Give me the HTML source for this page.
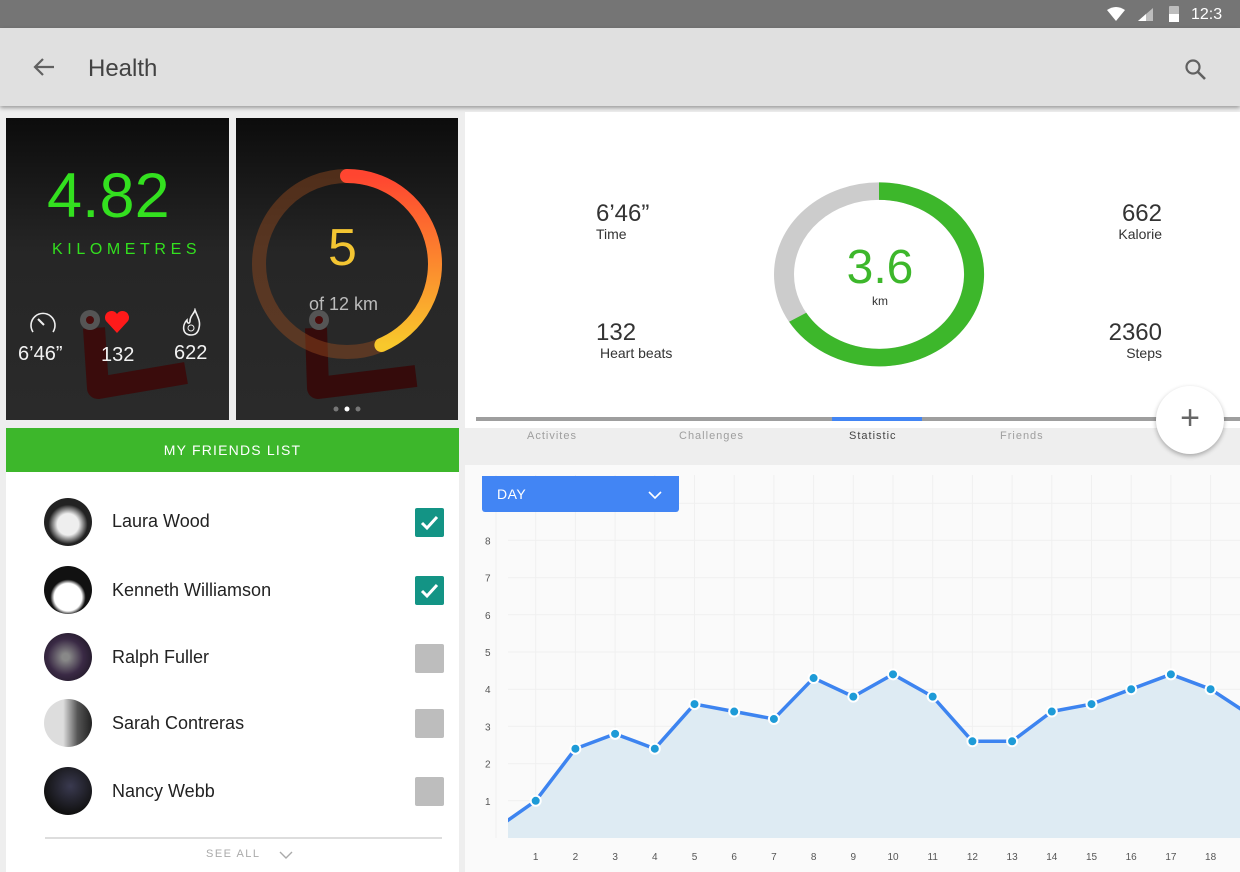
<!DOCTYPE html>
<html><head><meta charset="utf-8">
<style>
*{margin:0;padding:0;box-sizing:border-box}
body{width:1240px;height:872px;overflow:hidden;background:#eeeeee;font-family:"Liberation Sans",sans-serif;position:relative}
.abs{position:absolute}
.card{background:linear-gradient(#0c0c0c,#262626 45%,#2a2a2a);overflow:hidden}
.nm{position:absolute;left:112px;font-size:18px;color:#222}
.av{position:absolute;left:44px;width:48px;height:48px;border-radius:50%}
.cb{position:absolute;left:415px;width:29px;height:29px;border-radius:2px;background:#bdbdbd}
.cb.on{background:#139485}
.tab{position:absolute;top:430px;font-size:11px;letter-spacing:1px;color:#9e9e9e}
</style></head><body>
<div class="abs" style="left:0;top:0;width:1240px;height:28px;background:#757575">
 <svg class="abs" style="left:1106px;top:7px" width="20" height="15"><path d="M1 3 Q10 -3 19 3 L10 14Z" fill="#fff"/></svg>
 <svg class="abs" style="left:1138px;top:8px" width="16" height="14"><path d="M0 13 L15 0 L15 13Z" fill="#bdbdbd"/><path d="M0 13 L8 6 L8 13Z" fill="#fff"/></svg>
 <div class="abs" style="left:1169px;top:6px;width:10px;height:16px;background:#bdbdbd;border-radius:1px"><div class="abs" style="left:0;top:8px;width:10px;height:8px;background:#fff"></div></div>
 <div class="abs" style="left:1191px;top:6px;color:#fff;font-size:16px">12:3</div>
</div>
<div class="abs" style="left:0;top:28px;width:1240px;height:78px;background:#e0e0e0;box-shadow:0 2px 4px rgba(0,0,0,.35)">
 <svg class="abs" style="left:32px;top:29px" width="24" height="20"><path d="M22 10H4M11 2L3 10L11 18" stroke="#616161" stroke-width="2.2" fill="none"/></svg>
 <div class="abs" style="left:88px;top:27px;font-size:24px;color:#424242">Health</div>
 <svg class="abs" style="left:1184px;top:30px" width="24" height="24"><circle cx="9" cy="9" r="6.5" stroke="#616161" stroke-width="2.2" fill="none"/><path d="M14 14L21 21" stroke="#616161" stroke-width="2.6"/></svg>
</div>

<!-- card 1 -->
<div class="abs card" style="left:6px;top:118px;width:223px;height:302px">
 <svg class="abs" style="left:0;top:0" width="223" height="302"><path d="M88 210 L92 270 L180 255" stroke="#3a0c0c" stroke-width="22" fill="none" stroke-linejoin="round"/><circle cx="84" cy="202" r="10" fill="#555"/><circle cx="84" cy="202" r="4" fill="#4a0c0c"/></svg>
 <div class="abs" style="left:41px;top:42px;font-size:63px;color:#33e01f">4.82</div>
 <div class="abs" style="left:46px;top:123px;font-size:16px;letter-spacing:4.6px;color:#33e01f">KILOMETRES</div>
 <svg class="abs" style="left:23px;top:192px" width="28" height="26"><path d="M4 22 A12 12 0 1 1 24 22" stroke="#eee" stroke-width="1.6" fill="none"/><path d="M9 9L15 15" stroke="#eee" stroke-width="2"/></svg>
 <svg class="abs" style="left:98px;top:192px" width="26" height="24"><path d="M13 23 L2 11 A6 6 0 0 1 13 4 A6 6 0 0 1 24 11Z" fill="#ff1a1a"/></svg>
 <svg class="abs" style="left:174px;top:190px" width="22" height="28"><path d="M11 27 C2 27 2 17 7 12 C7 16 10 16 10 13 C10 8 14 6 15 2 C17 8 21 13 19 20 C18 25 15 27 11 27Z" stroke="#eee" stroke-width="1.6" fill="none"/><circle cx="11" cy="20" r="3" stroke="#eee" fill="none"/></svg>
 <div class="abs" style="left:12px;top:225px;font-size:20px;color:#f2f2f2">6’46”</div>
 <div class="abs" style="left:95px;top:226px;font-size:20px;color:#f2f2f2">132</div>
 <div class="abs" style="left:168px;top:224px;font-size:20px;color:#f2f2f2">622</div>
</div>
<!-- card 2 -->
<div class="abs card" style="left:236px;top:118px;width:222px;height:302px">
 <svg class="abs" style="left:0;top:0" width="222" height="302">
  <defs><linearGradient id="rg" x1="0" y1="0" x2="0" y2="1"><stop offset="0" stop-color="#ff4530"/><stop offset="1" stop-color="#f8c82c"/></linearGradient></defs>
  <path d="M80 210 L82 270 L180 258" stroke="#350b0b" stroke-width="22" fill="none" stroke-linejoin="round"/>
  <circle cx="111" cy="146" r="88" stroke="rgba(150,75,30,.45)" stroke-width="14" fill="none"/>
  <path d="M111 58 A88 88 0 0 1 145.4 227" stroke="url(#rg)" stroke-width="14" fill="none" stroke-linecap="round"/>
  <circle cx="83" cy="202" r="10" fill="#555"/><circle cx="83" cy="202" r="4" fill="#4a0c0c"/>
  <circle cx="100" cy="291" r="2.5" fill="#777"/><circle cx="111" cy="291" r="2.5" fill="#fff"/><circle cx="122" cy="291" r="2.5" fill="#777"/>
 </svg>
 <div class="abs" style="left:92px;top:100px;font-size:52px;color:#f3c532">5</div>
 <div class="abs" style="left:73px;top:176px;font-size:18px;color:#bbb">of 12 km</div>
</div>

<!-- stats panel -->
<div class="abs" style="left:465px;top:112px;width:775px;height:316px;background:#fff">
 <div class="abs" style="left:131px;top:88px;font-size:24px;color:#333">6’46”</div>
 <div class="abs" style="left:131px;top:114px;font-size:14px;color:#333">Time</div>
 <div class="abs" style="left:131px;top:207px;font-size:24px;color:#333">132</div>
 <div class="abs" style="left:135px;top:233px;font-size:14px;color:#333">Heart beats</div>
 <div class="abs" style="right:78px;top:88px;font-size:24px;color:#333">662</div>
 <div class="abs" style="right:78px;top:114px;font-size:14px;color:#333">Kalorie</div>
 <div class="abs" style="right:78px;top:207px;font-size:24px;color:#333">2360</div>
 <div class="abs" style="right:78px;top:233px;font-size:14px;color:#333">Steps</div>
 <svg class="abs" style="left:304px;top:66px" width="220" height="194">
  <g transform="scale(1,0.876)">
  <circle cx="110" cy="110" r="95" stroke="#cccccc" stroke-width="20" fill="none"/>
  <path d="M110 15 A95 95 0 1 1 28.7 159" stroke="#3db72b" stroke-width="20" fill="none"/>
  </g>
 </svg>
 <div class="abs" style="left:365px;top:128px;width:100px;text-align:center;font-size:48px;color:#3db72b">3.6</div>
 <div class="abs" style="left:365px;top:182px;width:100px;text-align:center;font-size:12px;color:#333">km</div>
</div>
<div class="abs" style="left:465px;top:428px;width:775px;height:37px;background:#eeeeee"></div>
<div class="abs" style="left:476px;top:417px;width:764px;height:4px;background:#9e9e9e"></div>
<div class="abs" style="left:832px;top:417px;width:90px;height:4px;background:#4285f4"></div>
<div class="tab" style="left:527px">Activites</div>
<div class="tab" style="left:679px">Challenges</div>
<div class="tab" style="left:849px;color:#444">Statistic</div>
<div class="tab" style="left:1000px">Friends</div>
<div class="abs" style="left:1156px;top:386px;width:68px;height:68px;border-radius:50%;background:#fff;box-shadow:0 2px 5px rgba(0,0,0,.3);text-align:center;line-height:64px;font-size:34px;color:#666;font-weight:300">+</div>

<!-- friends -->
<div class="abs" style="left:6px;top:428px;width:453px;height:44px;background:#3db72b;color:#fff;text-align:center;line-height:44px;font-size:14px;letter-spacing:1.2px">MY FRIENDS LIST</div>
<div class="abs" style="left:6px;top:472px;width:453px;height:400px;background:#fff"></div>
<div class="av" style="top:498px;background:radial-gradient(circle at 50% 55%,#eee 30%,#222 55%)"></div>
<div class="nm" style="top:511px">Laura Wood</div>
<div class="cb on" style="top:508px"><svg width="29" height="29"><path d="M7 15L12 20L22 9" stroke="#fff" stroke-width="3" fill="none"/></svg></div>
<div class="av" style="top:566px;background:radial-gradient(circle at 50% 65%,#fff 35%,#111 45%,#111 85%,#e22 88%)"></div>
<div class="nm" style="top:580px">Kenneth Williamson</div>
<div class="cb on" style="top:576px"><svg width="29" height="29"><path d="M7 15L12 20L22 9" stroke="#fff" stroke-width="3" fill="none"/></svg></div>
<div class="av" style="top:633px;background:radial-gradient(circle at 45% 50%,#888 10%,#3a2a45 50%,#1a1420 90%)"></div>
<div class="nm" style="top:647px">Ralph Fuller</div>
<div class="cb" style="top:644px"></div>
<div class="av" style="top:699px;background:linear-gradient(90deg,#ddd 40%,#555 70%,#222)"></div>
<div class="nm" style="top:713px">Sarah Contreras</div>
<div class="cb" style="top:709px"></div>
<div class="av" style="top:767px;background:radial-gradient(circle at 55% 40%,#3a3a50,#111 70%)"></div>
<div class="nm" style="top:781px">Nancy Webb</div>
<div class="cb" style="top:777px"></div>
<div class="abs" style="left:45px;top:837px;width:397px;height:2px;background:#ddd"></div>
<div class="abs" style="left:206px;top:848px;font-size:11px;letter-spacing:1.5px;color:#aaa">SEE ALL</div>
<svg class="abs" style="left:279px;top:851px" width="14" height="9"><path d="M1 1L7 7L13 1" stroke="#aaa" stroke-width="1.4" fill="none"/></svg>

<!-- chart -->
<svg class="abs" id="chart" style="left:465px;top:465px" width="775" height="407"></svg>
<div class="abs" style="left:482px;top:476px;width:197px;height:36px;background:#4285f4;border-radius:0 0 3px 3px;color:#fff;font-size:14px;letter-spacing:.5px;line-height:36px;padding-left:15px">DAY
 <svg class="abs" style="left:166px;top:15px" width="14" height="9"><path d="M1 1L7 7L13 1" stroke="#fff" stroke-width="1.6" fill="none"/></svg></div>

<script>
const xLabels = ["1","2","3","4","5","6","7","8","9","10","11","12","13","14","15","16","17","18"];
const yTicks = [1,2,3,4,5,6,7,8];
const xIndex = [0,1,2,3,4,5,6,7,8,9,10,11,12,13,14,15,16,17,18,19];
const values = [0.25,1,2.4,2.8,2.4,3.6,3.4,3.2,4.3,3.8,4.4,3.8,2.6,2.6,3.4,3.6,4.0,4.4,4.0,3.3];
const NS="http://www.w3.org/2000/svg";
const svg=document.getElementById('chart');
const plotL=43, plotR=775, plotB=373;
function xs(i){return 496 - 465 + i*39.7;}
function ys(v){return plotB - v*37.2;}
function mk(t,a){const e=document.createElementNS(NS,t);for(const k in a)e.setAttribute(k,a[k]);svg.appendChild(e);return e;}
const bg=mk('rect',{x:0,y:0,width:775,height:407,fill:'#fafafa'});


const clip=mk('clipPath',{id:'pc'});
const cr=document.createElementNS(NS,'rect');cr.setAttribute('x',plotL);cr.setAttribute('y',0);cr.setAttribute('width',plotR-plotL);cr.setAttribute('height',plotB);clip.appendChild(cr);
for(let i=0;i<=20;i++){const g=mk('line',{x1:xs(i),x2:xs(i),y1:10,y2:plotB,stroke:'#f0f0f0','stroke-width':1});

}
for(let v=1;v<=9;v++){const g=mk('line',{x1:plotL,x2:plotR,y1:ys(v),y2:ys(v),stroke:'#f0f0f0','stroke-width':1});

}
yTicks.forEach(v=>{const t=mk('text',{x:20,y:ys(v)+4,'font-size':10,fill:'#555','font-family':'Liberation Sans'});t.textContent=v;

});
xLabels.forEach((l,i)=>{const t=mk('text',{x:xs(i+1),y:395,'font-size':10,fill:'#555','text-anchor':'middle','font-family':'Liberation Sans'});t.textContent=l;

});
const pts=xIndex.map((x,i)=>[xs(x),ys(values[i])]);
const g=mk('g',{'clip-path':'url(#pc)'});
function gm(t,a){const e=document.createElementNS(NS,t);for(const k in a)e.setAttribute(k,a[k]);g.appendChild(e);return e;}
const area=gm('path',{d:'M'+pts[0][0]+','+plotB+' L'+pts.map(p=>p.join(',')).join(' L')+' L'+pts[pts.length-1][0]+','+plotB+'Z',fill:'#deebf3'});


const line=gm('polyline',{points:pts.map(p=>p.join(',')).join(' '),fill:'none',stroke:'#3d84f0','stroke-width':3.5,'stroke-linejoin':'round'});


pts.forEach((p,i)=>{if(i===0||i===pts.length-1)return;
const c=gm('circle',{cx:p[0],cy:p[1],r:5,fill:'#1e9bd7',stroke:'#fff','stroke-width':2});

});
</script>
</body></html>
